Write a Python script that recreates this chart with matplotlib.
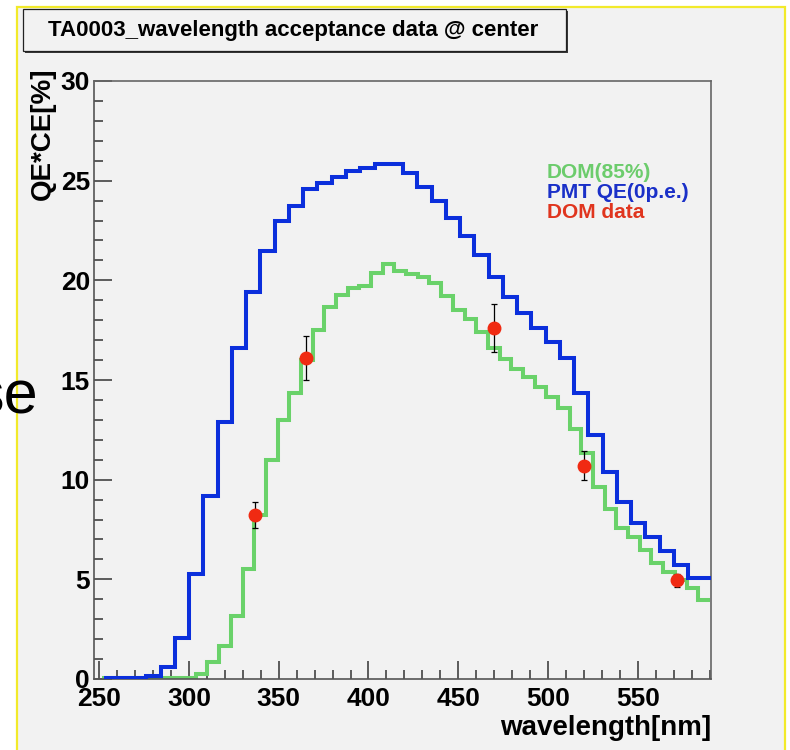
import numpy as np
import matplotlib
matplotlib.use("Agg")
import matplotlib.pyplot as plt
from matplotlib.patches import Rectangle
from matplotlib.ticker import MultipleLocator

plt.rcParams['font.family'] = ['Liberation Sans', 'DejaVu Sans']

# PMT QE histogram (blue), 43 bins starting at 252.5 nm
pmt_start, pmt_width = 252.5, 7.94
pmt_qe = [0.05, 0.05, 0.05, 0.17, 0.59, 2.04, 5.25, 9.18, 12.88, 16.63,
          19.40, 21.49, 22.97, 23.73, 24.60, 24.87, 25.16, 25.49, 25.66, 25.86,
          25.83, 25.40, 24.66, 23.96, 23.12, 22.24, 21.25, 20.16, 19.16, 18.35,
          17.60, 16.93, 16.09, 14.37, 12.26, 10.37, 8.86, 7.83, 7.11, 6.42,
          5.72, 5.05, 5.05]

# DOM(85%) histogram (green), 52 bins from 251.8 to 590.1 nm
dom_lo, dom_hi = 251.8, 590.1
dom_85 = [0.03, 0.03, 0.03, 0.03, 0.03, 0.03, 0.03, 0.05, 0.25, 0.87,
          1.66, 3.16, 5.50, 8.23, 10.99, 13.00, 14.35, 16.00, 17.51, 18.68,
          19.27, 19.64, 19.72, 20.36, 20.82, 20.49, 20.31, 20.19, 19.85, 19.20,
          18.51, 18.06, 17.40, 16.59, 16.05, 15.56, 15.17, 14.67, 14.17, 13.58,
          12.53, 11.32, 9.65, 8.53, 7.60, 7.12, 6.47, 5.80, 5.38, 4.97,
          4.55, 3.96]

# DOM measured points
data_wl = [337, 365, 470, 520, 572]
data_val = [8.23, 16.09, 17.60, 10.70, 4.95]
data_err = [0.65, 1.10, 1.20, 0.72, 0.33]

W, H = 790, 750
def fx(px):
    return px / W
def fy(py):
    return 1 - py / H

fig = plt.figure(figsize=(7.9, 7.5), dpi=100, facecolor='white')

# ROOT canvas with yellow border
fig.add_artist(Rectangle((fx(17), fy(760)), fx(785) - fx(17), fy(7) - fy(760),
                         transform=fig.transFigure, facecolor='#f2f2f2',
                         edgecolor='#f2ea2a', lw=1.6, zorder=0))

# stray slide text at left edge
fig.text(fx(38), fy(413), 'se', ha='right', va='baseline', fontsize=44,
         family=['Liberation Sans Narrow', 'Liberation Sans'],
         color='black', zorder=1)

# title pave with shadow
fig.add_artist(Rectangle((fx(25), fy(53)), fx(566) - fx(23), fy(9) - fy(51),
                         transform=fig.transFigure, facecolor='#3a3a3a',
                         edgecolor='none', zorder=2))
fig.add_artist(Rectangle((fx(23), fy(51)), fx(566) - fx(23), fy(9) - fy(51),
                         transform=fig.transFigure, facecolor='#f2f2f2',
                         edgecolor='#222222', lw=0.9, zorder=3))
fig.text(fx(48), fy(30.5), 'TA0003_wavelength acceptance data @ center',
         ha='left', va='center', fontsize=16, fontweight='bold', zorder=4)

ax = fig.add_axes([fx(93.5), fy(679), fx(711) - fx(93.5), fy(81) - fy(679)])
ax.set_facecolor('#f2f2f2')

pmt_edges = pmt_start + pmt_width * np.arange(len(pmt_qe) + 1)
dom_edges = np.linspace(dom_lo, dom_hi, len(dom_85) + 1)

ax.stairs(dom_85, dom_edges, baseline=None, color='#6ad26a', lw=2.9, zorder=2)
ax.stairs(pmt_qe, pmt_edges, baseline=None, color='#0b2fdc', lw=2.9, zorder=3)
ax.errorbar(data_wl, data_val, yerr=data_err, fmt='none', ecolor='black',
            elinewidth=0.9, capsize=2.3, capthick=0.9, zorder=4)
ax.plot(data_wl, data_val, 'o', color='#f02a12', markersize=9, zorder=5)

ax.set_xlim(246.9, 590.7)
ax.set_ylim(0, 30)
ax.xaxis.set_major_locator(MultipleLocator(50))
ax.xaxis.set_minor_locator(MultipleLocator(10))
ax.yaxis.set_major_locator(MultipleLocator(5))
ax.yaxis.set_minor_locator(MultipleLocator(1))
ax.tick_params(which='both', direction='in', colors='#333333', width=1.1,
               labelcolor='black', labelsize=19)
ax.tick_params(which='major', length=13)
ax.tick_params(which='minor', length=6.5)
ax.tick_params(axis='y', pad=2.5)
ax.tick_params(axis='x', pad=6)
for lab in ax.get_xticklabels() + ax.get_yticklabels():
    lab.set_fontweight('bold')

for side in ['left', 'bottom']:
    ax.spines[side].set_color('#555555')
    ax.spines[side].set_linewidth(1.2)
for side in ['top', 'right']:
    ax.spines[side].set_color('#666666')
    ax.spines[side].set_linewidth(1.2)

fig.text(fx(43), fy(68), 'QE*CE[%]', rotation=90, ha='center', va='top',
         fontsize=20, fontweight='bold')
fig.text(fx(711), fy(728), 'wavelength[nm]', ha='right', va='center',
         fontsize=20, fontweight='bold')

# legend texts
fig.text(fx(547), fy(173), 'DOM(85%)', ha='left', va='center', fontsize=15,
         fontweight='bold', color='#6ccc6c')
fig.text(fx(547), fy(192), 'PMT QE(0p.e.)', ha='left', va='center', fontsize=15,
         fontweight='bold', color='#1a30c8')
fig.text(fx(547), fy(212), 'DOM data', ha='left', va='center', fontsize=15,
         fontweight='bold', color='#e0351e')

fig.savefig('out.png', dpi=100)
